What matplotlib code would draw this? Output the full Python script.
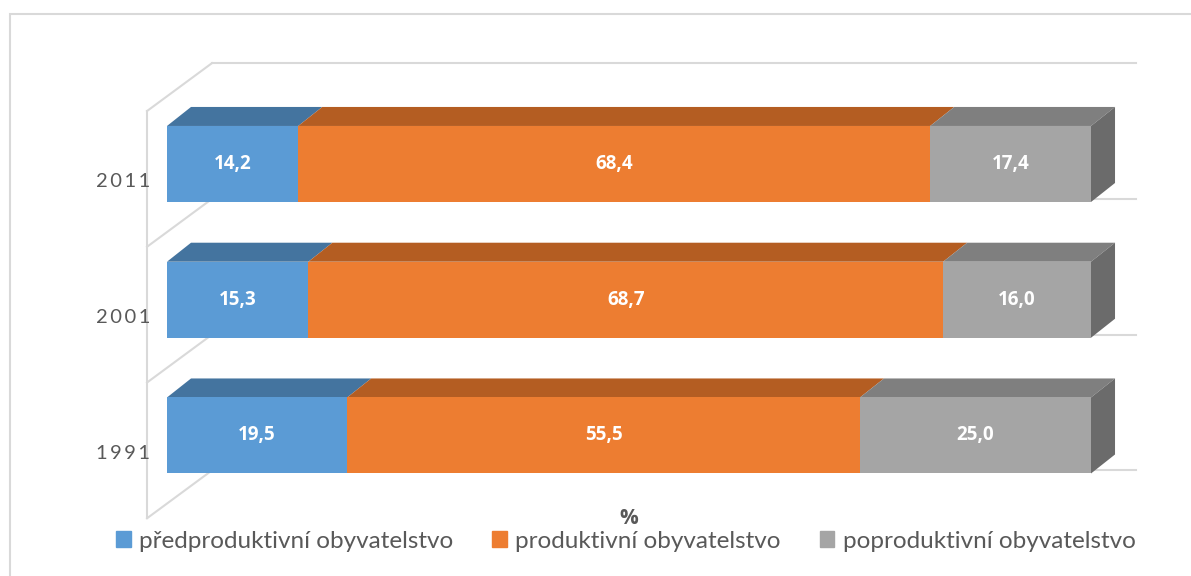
import matplotlib
matplotlib.use("Agg")
import matplotlib.pyplot as plt
from matplotlib.patches import Polygon, Rectangle, Patch

years = ['1991', '2001', '2011']
pred = [19.5, 15.3, 14.2]
prod = [55.5, 68.7, 68.4]
post = [25.0, 16.0, 17.4]
series_names = ['předproduktivní obyvatelstvo', 'produktivní obyvatelstvo', 'poproduktivní obyvatelstvo']

front_cols = ['#5B9BD5', '#ED7D31', '#A5A5A5']
top_cols = ['#44749F', '#B45D22', '#7F7F7F']
side_col = '#6B6B6B'
grid_col = '#D9D9D9'
text_col = '#595959'
FONT = ['Lato', 'DejaVu Sans']
BOLD = ['Open Sans', 'DejaVu Sans']
plt.rcParams['font.family'] = FONT

W, H = 1191, 576
fig = plt.figure(figsize=(W / 100, H / 100), dpi=100)

# chart border
fig.add_artist(Rectangle((10 / W, -0.01), 1.2, 1 - 14 / H + 0.01, transform=fig.transFigure,
                         fill=False, ec=grid_col, lw=1.5))

ax = fig.add_axes([167 / W, 0.0790, 924 / W, 0.8720])
ax.set_xlim(0, 100)
ax.set_ylim(-0.7, 3.0)
for s in ax.spines.values():
    s.set_visible(False)
ax.set_xticks([])

# 3D offsets (data units)
bdx, bdy = 2.6, 0.14        # bar depth
fdx, fdy = -2.16, -0.11     # wall front plane
kdx, kdy = 4.87, 0.243      # wall back plane
h = 0.28

pos = list(range(len(years)))

# walls / gridlines
bounds = [p - 0.5 for p in pos] + [pos[-1] + 0.5]
for b in bounds:
    ax.plot([0 + kdx, 100 + kdx], [b + kdy, b + kdy], color=grid_col, lw=1.5, zorder=0, clip_on=False)
    ax.plot([0 + fdx, 0 + kdx], [b + fdy, b + kdy], color=grid_col, lw=1.5, zorder=0, clip_on=False)
ax.plot([fdx, fdx], [bounds[0] + fdy, bounds[-1] + fdy], color=grid_col, lw=1.5, zorder=0, clip_on=False)

series = [pred, prod, post]
for i, y in enumerate(pos):
    left = 0.0
    for k, vals in enumerate(series):
        v = vals[i]
        R = left + v
        ax.barh(y, v, left=left, height=2 * h, color=front_cols[k], zorder=3)
        top = Polygon([(left, y + h), (R, y + h), (R + bdx, y + h + bdy), (left + bdx, y + h + bdy)],
                      closed=True, fc=top_cols[k], ec='none', zorder=2, clip_on=False)
        ax.add_patch(top)
        ax.text(left + v / 2, y, f"{v:.1f}".replace('.', ','), ha='center', va='center',
                color='white', fontsize=13.5, fontweight='bold', family=BOLD, zorder=5)
        left = R
    side = Polygon([(left, y - h), (left, y + h), (left + bdx, y + h + bdy), (left + bdx, y - h + bdy)],
                   closed=True, fc=side_col, ec='none', zorder=2, clip_on=False)
    ax.add_patch(side)

ax.set_yticks([p + fdy - 0.01 for p in pos])
ax.set_yticklabels(['\u2009'.join(y) for y in years], fontsize=14.5, color=text_col)
ax.tick_params(axis='y', length=0, pad=12)

ax.set_xlabel('%', fontsize=15, fontweight='bold', color=text_col, family=BOLD)
ax.xaxis.set_label_coords(0.5, (530.5 - 519) / 502.25, transform=ax.transAxes)
ax.xaxis.label.set_va('center')

handles = [Patch(color=c) for c in front_cols]
fig.legend(handles, series_names, loc='center', bbox_to_anchor=(626 / W, 1 - 541 / H), ncol=3,
           frameon=False, fontsize=17.5, labelcolor=text_col, handlelength=0.6, handleheight=0.6,
           handletextpad=0.35, columnspacing=1.6)

fig.savefig('out.png', dpi=100)
